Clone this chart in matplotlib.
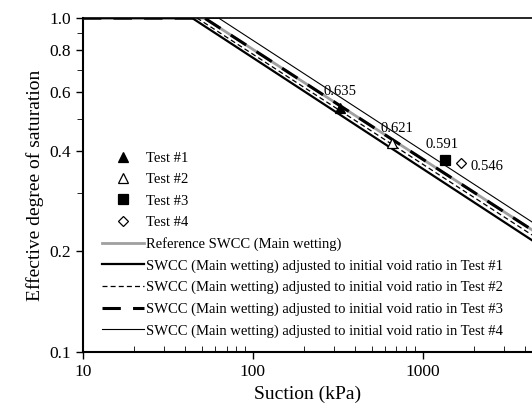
import matplotlib
matplotlib.use("Agg")
import matplotlib.pyplot as plt
from matplotlib.ticker import FixedLocator, NullFormatter, LogLocator

plt.rcParams["font.family"] = ["Liberation Serif", "DejaVu Serif"]

# measured points (suction kPa, effective degree of saturation)
test_names = ["Test #1", "Test #2", "Test #3", "Test #4"]
test_suction = [324, 658, 1358, 1687]
test_se = [0.538, 0.422, 0.377, 0.367]
void_ratio = ["0.635", "0.621", "0.591", "0.546"]

# SWCC curves read as breakpoints: start, air-entry kink, right end
curve_names = ["Reference SWCC (Main wetting)"] + [
    f"SWCC (Main wetting) adjusted to initial void ratio in {t}" for t in test_names
]
curve_suction = [
    [10, 52, 4400],   # reference
    [10, 44, 4400],   # test 1
    [10, 47, 4400],   # test 2
    [10, 52, 4400],   # test 3
    [10, 63, 4400],   # test 4
]
curve_se = [
    [1.0, 1.0, 0.232],
    [1.0, 1.0, 0.216],
    [1.0, 1.0, 0.224],
    [1.0, 1.0, 0.232],
    [1.0, 1.0, 0.245],
]

fig = plt.figure(figsize=(5.32, 4.12), dpi=100)
ax = fig.add_axes([0.156, 0.146, 0.844, 0.81])

line_styles = [
    dict(color="#a0a0a0", lw=2.0, ls="-"),
    dict(color="black", lw=1.6, ls="-"),
    dict(color="black", lw=0.9, ls=(0, (4, 2.5))),
    dict(color="black", lw=2.2, ls=(0, (6, 4))),
    dict(color="black", lw=0.8, ls="-"),
]
markers = [
    dict(marker="^", mfc="black", mec="black"),
    dict(marker="^", mfc="white", mec="black"),
    dict(marker="s", mfc="black", mec="black"),
    dict(marker="D", mfc="white", mec="black", ms=5.5),
]

handles = []
for i in range(4):
    kw = dict(ms=7, mew=0.9)
    kw.update(markers[i])
    h, = ax.plot([test_suction[i]], [test_se[i]], ls="none", label=test_names[i],
                 zorder=5, **kw)
    handles.append(h)

for xs, ys, st, name in zip(curve_suction, curve_se, line_styles, curve_names):
    h, = ax.plot(xs, ys, label=name, zorder=3, **st)
    handles.append(h)

offsets = [(0, 12), (4, 10.5), (-2.5, 11), (6.5, -2)]
has = ["center", "center", "center", "left"]
for x, y, t, off, ha in zip(test_suction, test_se, void_ratio, offsets, has):
    ax.annotate(t, (x, y), xytext=off, textcoords="offset points",
                ha=ha, va="center", fontsize=10.5)

ax.set_xscale("log")
ax.set_yscale("log")
ax.set_xlim(10, 4400)
ax.set_ylim(0.1, 1.0)

ax.yaxis.set_major_locator(FixedLocator([0.1, 0.2, 0.4, 0.6, 0.8, 1.0]))
ax.yaxis.set_minor_locator(FixedLocator([0.3, 0.5, 0.7, 0.9]))
ax.yaxis.set_major_formatter(plt.FuncFormatter(lambda v, p: f"{v:.1f}"))
ax.yaxis.set_minor_formatter(NullFormatter())
ax.xaxis.set_major_locator(FixedLocator([10, 100, 1000]))
ax.xaxis.set_minor_locator(LogLocator(base=10, subs=range(2, 10)))
ax.xaxis.set_major_formatter(plt.FuncFormatter(lambda v, p: f"{v:.0f}"))
ax.xaxis.set_minor_formatter(NullFormatter())

ax.tick_params(axis="both", which="major", labelsize=12.5, length=5, width=1)
ax.tick_params(axis="x", which="minor", direction="in", length=4)
ax.tick_params(axis="y", which="minor", length=4)

for s in ["left", "bottom"]:
    ax.spines[s].set_linewidth(1.5)
ax.spines["top"].set_linewidth(1.2)
ax.spines["right"].set_visible(False)

ax.set_xlabel("Suction (kPa)", fontsize=14)
ax.set_ylabel("Effective degree of saturation", fontsize=14)

ax.legend(handles=handles, loc="lower left", bbox_to_anchor=(0.02, 0.012),
          frameon=False, fontsize=10.5, handlelength=2.9, handletextpad=0.1,
          labelspacing=0.56, borderaxespad=0.3)

fig.savefig("out.png", dpi=100)
